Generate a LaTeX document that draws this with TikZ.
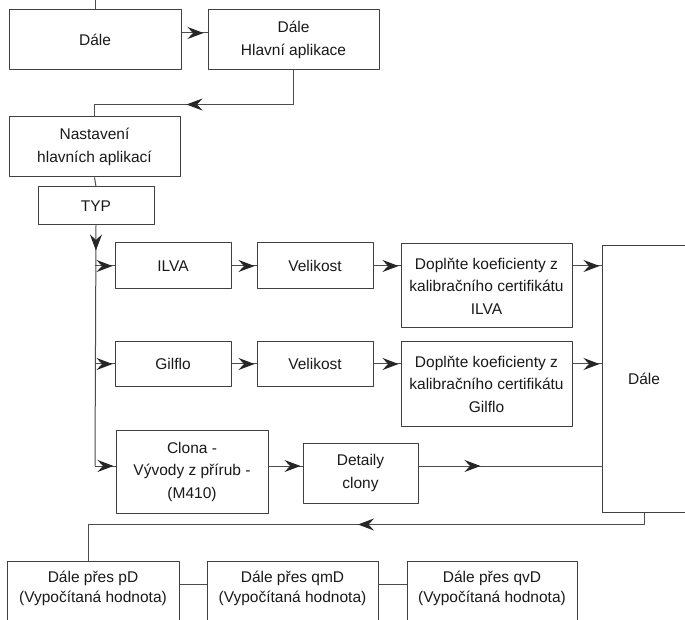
\documentclass[tikz,border=0pt]{standalone}
\usepackage{fontspec}
\setmainfont{Liberation Sans}
\usetikzlibrary{arrows.meta,decorations.markings}

\begin{document}
\begin{tikzpicture}[x=1pt, y=1pt, line join=round, >={Stealth[length=16pt,width=12pt,inset=5.5pt]},
	font=\fontsize{15.5}{22.5}\selectfont, text=black!90,
	box/.style={draw=black!75, line width=1pt, align=center, inner sep=0pt},
	link/.style={draw=black!70, line width=1pt},
	tipat/.style={postaction={decorate}, decoration={markings, mark=at position #1 with {\arrow[black!85]{>}}}}]
	\useasboundingbox (0,0) rectangle (685,619);
	\clip (0,0) rectangle (685,619);
	
	% top row
	\node[box, minimum width=172, minimum height=60] (dale) at (95,579) {Dále};
	\node[box, minimum width=171, minimum height=60] (hlavni) at (293.5,579) {Dále\\Hlavní aplikace};
	\node[box, minimum width=171, minimum height=60] (nastav) at (94.5,472) {Nastavení\\hlavních aplikací};
	\node[box, minimum width=116, minimum height=38] (typ) at (96,413) {TYP};
	
	% branches
	\node[box, minimum width=116, minimum height=46] (ilva) at (173,353) {ILVA};
	\node[box, minimum width=116, minimum height=46] (velA) at (315,353) {Velikost};
	\node[box, minimum width=171, minimum height=84] (koefA) at (486.5,333) {Doplňte koeficienty z\\kalibračního certifikátu\\ILVA};
	\node[box, minimum width=116, minimum height=45] (gilflo) at (173,255) {Gilflo};
	\node[box, minimum width=116, minimum height=45] (velB) at (315,255) {Velikost};
	\node[box, minimum width=171, minimum height=84] (koefB) at (486.5,235) {Doplňte koeficienty z\\kalibračního certifikátu\\Gilflo};
	\node[box, minimum width=152, minimum height=83] (clona) at (192,147.5) {Clona -\\Vývody z přírub -\\(M410)};
	\node[box, minimum width=115, minimum height=60] (detaily) at (360.5,146) {Detaily\\clony};
	\node[box, minimum width=84, minimum height=266] (dalsi) at (644,240) {Dále};
	
	% bottom row
	\node[box, minimum width=172, minimum height=70, text depth=18pt] (pD) at (93,23) {Dále přes pD\\[-3pt](Vypočítaná hodnota)};
	\node[box, minimum width=171, minimum height=70, text depth=18pt] (qmD) at (292.5,23) {Dále přes qmD\\[-3pt](Vypočítaná hodnota)};
	\node[box, minimum width=170, minimum height=70, text depth=18pt] (qvD) at (492,23) {Dále přes qvD\\[-3pt](Vypočítaná hodnota)};
	
	\coordinate (vstup) at (95,619);
	\coordinate (kmen) at (95,153);
	
	\draw[link] (dale.north) -- (dale.north |- vstup);
	\draw[link, tipat=-4pt] ([yshift=7]dale.east) -- ([yshift=7]hlavni.west);
	\draw[link, tipat=141pt] (hlavni.south) -- ++(0,-34) -| (nastav.north);
	\draw[link] (nastav.south) -- (typ.north);
	\draw[link, tipat=25pt] (typ.south) -- (kmen);
	
	\draw[link, tipat=-2pt] (kmen |- ilva.west) -- (ilva.west);
	\draw[link, tipat=-2pt] (ilva.east) -- (velA.west);
	\draw[link, tipat=-2pt] (velA.east) -- (koefA.west |- velA.east);
	\draw[link, tipat=-2pt] (koefA.east |- velA.east) -- (dalsi.west |- velA.east);
	
	\draw[link, tipat=-2pt] (kmen |- gilflo.west) -- (gilflo.west);
	\draw[link, tipat=-2pt] (gilflo.east) -- (velB.west);
	\draw[link, tipat=-2pt] (velB.east) -- (koefB.west |- velB.east);
	\draw[link, tipat=-2pt] (koefB.east |- velB.east) -- (dalsi.west |- velB.east);
	
	\draw[link, tipat=-2pt] (kmen) -- (clona.west |- kmen);
	\draw[link, tipat=-2pt] (clona.east |- kmen) -- (detaily.west |- kmen);
	\draw[link, tipat=62pt] (detaily.east |- kmen) -- (dalsi.west |- kmen);
	
	\draw[link, tipat=298pt] (dalsi.south) -- ++(0,-12) -| ([xshift=-5]pD.north);
	\draw[link] (pD.east |- 0,35) -- (qmD.west |- 0,35);
	\draw[link] (qmD.east |- 0,35) -- (qvD.west |- 0,35);
\end{tikzpicture}
\end{document}
